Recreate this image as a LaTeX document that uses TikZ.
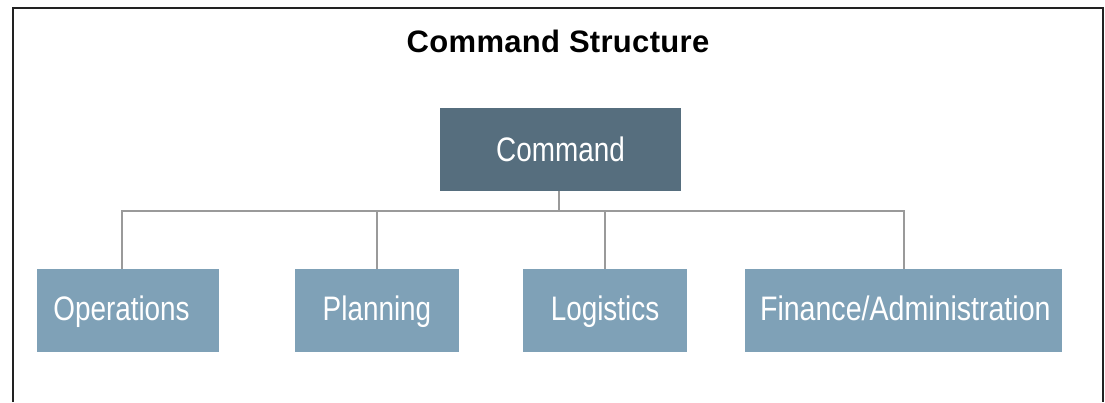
\documentclass[tikz,border=0pt]{standalone}
\usepackage{fontspec}
\setmainfont{Liberation Sans}
\newfontfamily\condfont[FakeStretch=0.82]{Liberation Sans}
\newfontfamily\titlefont[LetterSpace=1]{Liberation Sans}
\definecolor{cmdfill}{HTML}{566E7E}
\definecolor{subfill}{HTML}{7FA1B7}
\definecolor{linkgray}{HTML}{9A9A9A}
\definecolor{framegray}{HTML}{222222}
\tikzset{
  frameline/.style={draw=framegray, line width=2pt},
  boxbase/.style={rectangle, draw=none, inner sep=0pt, text=white,
    font=\condfont\fontsize{34}{34}\selectfont, text height=24.5pt,
    minimum height=83pt},
  cmdbox/.style={boxbase, fill=cmdfill, text depth=1pt},
  subbox/.style={boxbase, fill=subfill, text depth=4pt},
  link/.style={draw=linkgray, line width=2pt},
  titletext/.style={inner sep=0pt, anchor=base, text=black,
    font=\titlefont\bfseries\fontsize{31}{31}\selectfont}
}
\begin{document}
\begin{tikzpicture}[x=1pt,y=-1pt]
\useasboundingbox (0,0) rectangle (1105,402);
\fill[white] (0,0) rectangle (1105,402);
\draw[frameline] (13,402) -- (13,8) -- (1103,8) -- (1103,402);
\node[titletext] (title) at (558,52.3) {Command Structure};
\node[cmdbox, minimum width=241pt] (cmd) at (560.5,149.5) {Command};
\node[subbox, minimum width=182pt] (ops) at (128,310.5) {Operations\hspace*{13pt}};
\node[subbox, minimum width=164pt] (plan) at (377,310.5) {Planning};
\node[subbox, minimum width=164pt] (log) at (605,310.5) {Logistics};
\node[subbox, minimum width=317pt] (fin) at (903.3,310.5) {\addfontfeature{FakeStretch=0.84}Finance/Administration\hspace*{-4pt}};
\coordinate (bus) at (559,211);
\coordinate (opsin) at ([xshift=-6.3pt]ops.north);
\draw[link] ([xshift=-1.5pt]cmd.south) -- (bus);
\draw[link] (bus) -| (opsin);
\draw[link] (bus) -| (plan.north);
\draw[link] (bus) -| ([xshift=0.3pt]fin.north);
\draw[link] (log.north) |- (bus);
\end{tikzpicture}
\end{document}
